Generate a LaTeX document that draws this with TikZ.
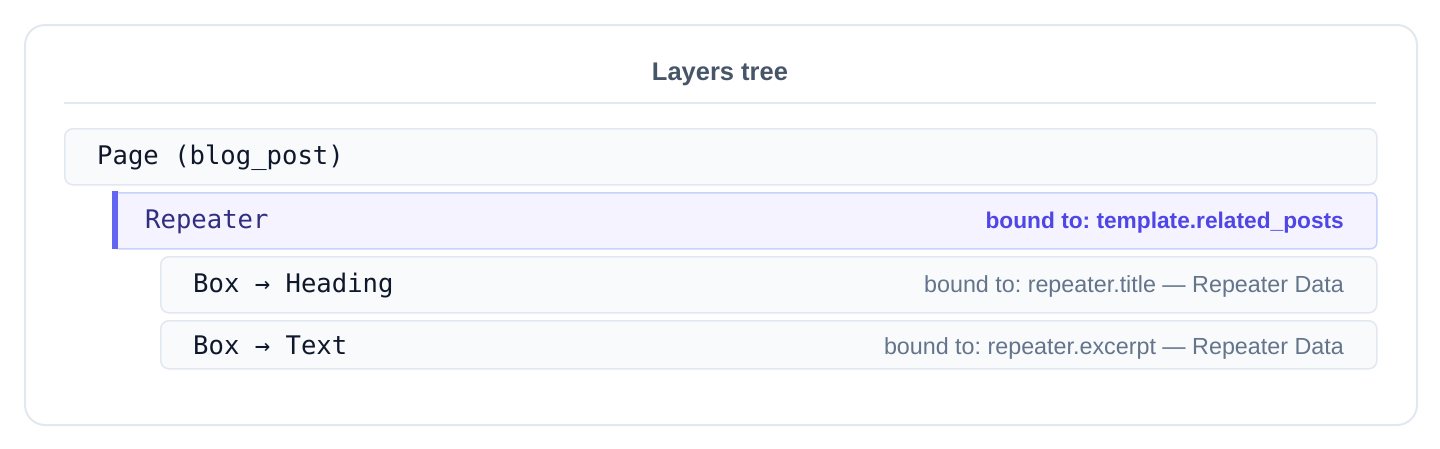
\documentclass[tikz,border=0pt]{standalone}
\usepackage{fontspec}
\setmainfont{Liberation Sans}
\newfontfamily\monof{DejaVu Sans Mono}
\frenchspacing
\definecolor{cardborder}{HTML}{E2E8F0}
\definecolor{rowfill}{HTML}{F8FAFC}
\definecolor{rowborder}{HTML}{E2E8F0}
\definecolor{titlecol}{HTML}{475569}
\definecolor{monocol}{HTML}{0F172A}
\definecolor{repfill}{HTML}{F4F3FF}
\definecolor{repborder}{HTML}{C7D2FE}
\definecolor{repbar}{HTML}{6366F1}
\definecolor{reptext}{HTML}{312E81}
\definecolor{repbound}{HTML}{4F46E5}
\definecolor{graytext}{HTML}{64748B}
\tikzset{
  card/.style={draw=cardborder, line width=2pt, rounded corners=20pt, fill=white, inner sep=0pt},
  rowbox/.style={draw=rowborder, line width=1.5pt, fill=rowfill, rounded corners=8pt, inner sep=0pt, anchor=north west},
  repbox/.style={draw=repborder, line width=1.5pt, fill=repfill, rounded corners=6pt, inner sep=0pt, anchor=north west},
  titletext/.style={font=\fontsize{25.5}{30}\selectfont\bfseries, text=titlecol, inner sep=0pt, anchor=base},
  monotext/.style={font=\monof\fontsize{25.6}{30}\selectfont, text=monocol, inner sep=0pt, anchor=base west},
  boundtext/.style={font=\fontsize{23.3}{28}\selectfont, text=graytext, inner sep=0pt, anchor=base east},
  repboundtext/.style={font=\fontsize{22.7}{28}\selectfont\bfseries, text=repbound, inner sep=0pt, anchor=base east},
}
\begin{document}
\begin{tikzpicture}[x=1pt,y=-1pt]
\useasboundingbox (0,0) rectangle (1440,448);
\node[card, anchor=north west, minimum width=1392pt, minimum height=400pt] (card) at (24,24) {};
\node[titletext] (title) at (720,80.5) {Layers tree};
\coordinate (sepL) at (64,103);
\coordinate (sepR) at (1376,103);
\draw[cardborder, line width=1.5pt] (sepL) -- (sepR);
% rows
\node[rowbox, minimum width=1312pt, minimum height=56pt] (page) at (64,128) {};
\node[monotext] (pagetxt) at (97,164.5) {Page (blog\string_post)};
\node[repbox, minimum width=1264pt, minimum height=56pt] (rep) at (112,192) {};
\fill[repbar] (112,191.25) rectangle (118,248.75);
\node[monotext, text=reptext] (reptxt) at (145,228.5) {Repeater};
\node[repboundtext] (repbound) at (1344,228.5) {bound to: template.related\string_posts};
\node[rowbox, minimum width=1216pt, minimum height=56pt] (head) at (160,256) {};
\node[monotext] (headtxt) at (193,292.5) {Box → Heading};
\node[boundtext] (headbound) at (1344,292.5) {bound to: repeater.title — Repeater Data};
\node[rowbox, minimum width=1216pt, minimum height=48pt] (text) at (160,320) {};
\node[monotext] (texttxt) at (193,354.5) {Box → Text};
\node[boundtext] (textbound) at (1344,354.5) {bound to: repeater.excerpt — Repeater Data};
\end{tikzpicture}
\end{document}
